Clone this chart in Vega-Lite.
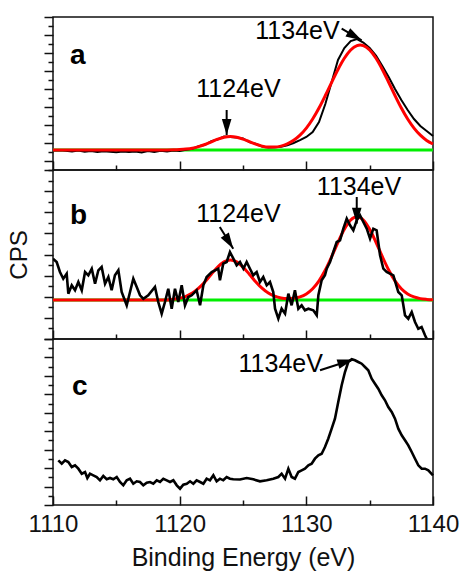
{
 "$schema": "https://vega.github.io/schema/vega-lite/v6.json",
 "padding": {"left": 6, "top": 15, "right": 0, "bottom": 0},
 "background": "white",
 "bounds": "flush",
 "spacing": 0,
 "config": {
  "view": {"stroke": "#111", "strokeWidth": 1.5},
  "font": "Liberation Sans",
  "axis": {"grid": false, "domain": false, "tickColor": "#111", "tickWidth": 1.5, "labelFont": "Liberation Sans", "titleFont": "Liberation Sans", "labelColor": "#111", "titleColor": "#111", "titleFontWeight": "normal"}
 },
 "datasets": {
  "aBase": [{"e":1110,"v":20},{"e":1140,"v":20}],
  "bBase": [{"e":1110,"v":39},{"e":1140,"v":39}],
  "aFit": [{"e":1110,"v":20},{"e":1117,"v":20},{"e":1118,"v":20.02},{"e":1119,"v":20.05},{"e":1119.5,"v":20.15},{"e":1120,"v":20.4},{"e":1120.5,"v":20.9},{"e":1121,"v":21.8},{"e":1121.5,"v":23.4},{"e":1122,"v":25.5},{"e":1122.5,"v":28.2},{"e":1123,"v":30.8},{"e":1123.5,"v":32.8},{"e":1124,"v":33.5},{"e":1124.5,"v":32.8},{"e":1125,"v":30.9},{"e":1125.5,"v":28.3},{"e":1126,"v":25.8},{"e":1126.5,"v":23.9},{"e":1127,"v":22.9},{"e":1127.5,"v":22.9},{"e":1128,"v":23.9},{"e":1128.5,"v":26.1},{"e":1129,"v":29.65},{"e":1129.5,"v":34.8},{"e":1130,"v":41.9},{"e":1130.5,"v":51.0},{"e":1131,"v":62.0},{"e":1131.5,"v":74.5},{"e":1132,"v":87.7},{"e":1132.5,"v":100.5},{"e":1133,"v":111.7},{"e":1133.5,"v":120.0},{"e":1134,"v":124.4},{"e":1134.25,"v":125},{"e":1134.5,"v":124.4},{"e":1135,"v":120.0},{"e":1135.5,"v":111.7},{"e":1136,"v":100.5},{"e":1136.5,"v":87.7},{"e":1137,"v":74.5},{"e":1137.5,"v":62.0},{"e":1138,"v":51.0},{"e":1138.5,"v":41.9},{"e":1139,"v":34.8},{"e":1139.5,"v":29.6},{"e":1140,"v":26.0}],
  "aExp": [{"e":1110,"v":19.5},{"e":1110.5,"v":19.8},{"e":1111,"v":19.2},{"e":1111.5,"v":18.6},{"e":1112,"v":19.4},{"e":1112.5,"v":18.3},{"e":1113,"v":18.9},{"e":1113.5,"v":18.0},{"e":1114,"v":18.7},{"e":1114.5,"v":18.2},{"e":1115,"v":17.8},{"e":1115.5,"v":18.6},{"e":1116,"v":17.9},{"e":1116.5,"v":18.4},{"e":1117,"v":17.6},{"e":1117.5,"v":18.9},{"e":1118,"v":18.1},{"e":1118.5,"v":19.2},{"e":1119,"v":18.4},{"e":1119.5,"v":19.6},{"e":1120,"v":19.0},{"e":1120.5,"v":20.3},{"e":1121,"v":21.2},{"e":1121.5,"v":23.8},{"e":1122,"v":25.2},{"e":1122.5,"v":28.9},{"e":1123,"v":30.5},{"e":1123.5,"v":33.6},{"e":1124,"v":33.0},{"e":1124.5,"v":32.4},{"e":1125,"v":31.6},{"e":1125.5,"v":27.9},{"e":1126,"v":26.2},{"e":1126.5,"v":23.5},{"e":1127,"v":22.4},{"e":1127.5,"v":22.8},{"e":1128,"v":23.2},{"e":1128.5,"v":24.8},{"e":1129,"v":27.0},{"e":1129.5,"v":29.8},{"e":1130,"v":33.0},{"e":1130.5,"v":38.0},{"e":1131,"v":48},{"e":1131.5,"v":66},{"e":1132,"v":88},{"e":1132.5,"v":110},{"e":1133,"v":122},{"e":1133.5,"v":129},{"e":1134,"v":131},{"e":1134.5,"v":127.5},{"e":1135,"v":122},{"e":1135.5,"v":114.5},{"e":1136,"v":104},{"e":1136.5,"v":93},{"e":1137,"v":81},{"e":1137.5,"v":70},{"e":1138,"v":60},{"e":1138.5,"v":51},{"e":1139,"v":44},{"e":1139.5,"v":39},{"e":1140,"v":34}],
  "bFit": [{"e":1110,"v":39},{"e":1119,"v":39},{"e":1119.5,"v":39.8},{"e":1120,"v":40.8},{"e":1120.5,"v":42.7},{"e":1121,"v":45.9},{"e":1121.5,"v":50.8},{"e":1122,"v":57.3},{"e":1122.5,"v":64.8},{"e":1123,"v":71.9},{"e":1123.5,"v":77.1},{"e":1124,"v":79.0},{"e":1124.5,"v":77.1},{"e":1125,"v":71.9},{"e":1125.5,"v":64.8},{"e":1126,"v":57.3},{"e":1126.5,"v":50.8},{"e":1127,"v":45.9},{"e":1127.5,"v":42.8},{"e":1128,"v":41.0},{"e":1128.5,"v":40.4},{"e":1129,"v":40.7},{"e":1129.5,"v":42.1},{"e":1130,"v":45.1},{"e":1130.5,"v":50.3},{"e":1131,"v":58.2},{"e":1131.5,"v":69},{"e":1132,"v":82.4},{"e":1132.5,"v":96.7},{"e":1133,"v":109.7},{"e":1133.5,"v":119},{"e":1134,"v":122.3},{"e":1134.5,"v":119},{"e":1135,"v":109.7},{"e":1135.5,"v":96.7},{"e":1136,"v":82.4},{"e":1136.5,"v":69},{"e":1137,"v":58.2},{"e":1137.5,"v":50.3},{"e":1138,"v":45.1},{"e":1138.5,"v":42.1},{"e":1139,"v":40.4},{"e":1139.5,"v":39.6},{"e":1140,"v":39.2}],
  "bExp": [{"e":1110.0,"v":80.3},{"e":1110.29,"v":77},{"e":1110.55,"v":67},{"e":1110.81,"v":60.3},{"e":1111.08,"v":65.3},{"e":1111.21,"v":45.3},{"e":1111.48,"v":53.7},{"e":1111.74,"v":48.7},{"e":1112.0,"v":57},{"e":1112.27,"v":48.7},{"e":1112.53,"v":67},{"e":1112.79,"v":63.7},{"e":1113.06,"v":70.3},{"e":1113.32,"v":55.3},{"e":1113.58,"v":68.7},{"e":1113.84,"v":72},{"e":1114.11,"v":55.3},{"e":1114.37,"v":62},{"e":1114.63,"v":48.7},{"e":1114.89,"v":63.7},{"e":1115.16,"v":68.7},{"e":1115.42,"v":47},{"e":1115.82,"v":33.7},{"e":1116.08,"v":47},{"e":1116.34,"v":60.3},{"e":1116.61,"v":52},{"e":1116.87,"v":43.7},{"e":1117.13,"v":40.3},{"e":1117.52,"v":43.7},{"e":1118.05,"v":52},{"e":1118.31,"v":37},{"e":1118.58,"v":25.3},{"e":1118.84,"v":37},{"e":1119.1,"v":50.3},{"e":1119.37,"v":30.3},{"e":1119.63,"v":50.3},{"e":1119.89,"v":37},{"e":1120.16,"v":53.7},{"e":1120.42,"v":33.7},{"e":1120.68,"v":42},{"e":1120.95,"v":43.7},{"e":1121.34,"v":48.7},{"e":1121.61,"v":33.7},{"e":1121.87,"v":53.7},{"e":1122.13,"v":62},{"e":1122.53,"v":67},{"e":1122.79,"v":68.7},{"e":1123.05,"v":70.3},{"e":1123.18,"v":58.7},{"e":1123.44,"v":75.3},{"e":1123.71,"v":77},{"e":1123.97,"v":87},{"e":1124.24,"v":80.3},{"e":1124.5,"v":73.7},{"e":1124.76,"v":77},{"e":1125.03,"v":70.3},{"e":1125.29,"v":77},{"e":1125.55,"v":70.3},{"e":1125.81,"v":63.7},{"e":1126.08,"v":67},{"e":1126.34,"v":57},{"e":1126.6,"v":62},{"e":1126.87,"v":53.7},{"e":1127.13,"v":57},{"e":1127.39,"v":47},{"e":1127.53,"v":30.3},{"e":1127.79,"v":20.3},{"e":1128.05,"v":30.3},{"e":1128.32,"v":25.3},{"e":1128.58,"v":45.3},{"e":1128.84,"v":33.7},{"e":1129.1,"v":48.7},{"e":1129.37,"v":30.3},{"e":1129.63,"v":33.7},{"e":1129.89,"v":28.7},{"e":1130.16,"v":30.3},{"e":1130.55,"v":28.7},{"e":1130.82,"v":23.7},{"e":1130.95,"v":43.7},{"e":1131.21,"v":58.7},{"e":1131.47,"v":63.7},{"e":1131.61,"v":70.3},{"e":1131.87,"v":77},{"e":1132.13,"v":87},{"e":1132.4,"v":97},{"e":1132.66,"v":98.7},{"e":1132.92,"v":110.3},{"e":1133.19,"v":120.3},{"e":1133.45,"v":113.7},{"e":1133.71,"v":108.7},{"e":1133.98,"v":118.7},{"e":1134.24,"v":123.7},{"e":1134.5,"v":117},{"e":1134.77,"v":110.3},{"e":1135.03,"v":100.3},{"e":1135.29,"v":110.3},{"e":1135.55,"v":108.7},{"e":1135.82,"v":83.7},{"e":1136.08,"v":70.3},{"e":1136.34,"v":67},{"e":1136.87,"v":63.7},{"e":1137.26,"v":47},{"e":1137.53,"v":43.7},{"e":1137.79,"v":23.7},{"e":1138.05,"v":20.3},{"e":1138.32,"v":27},{"e":1138.58,"v":17},{"e":1138.84,"v":10.3},{"e":1139.1,"v":12},{"e":1139.37,"v":3.7},{"e":1139.63,"v":-3}],
  "cExp": [{"e":1110.42,"v":44.7},{"e":1110.69,"v":41.3},{"e":1110.95,"v":44.7},{"e":1111.21,"v":43},{"e":1111.48,"v":38},{"e":1111.74,"v":39.7},{"e":1112.0,"v":36.3},{"e":1112.27,"v":31.3},{"e":1112.53,"v":33},{"e":1112.71,"v":27},{"e":1112.92,"v":31.3},{"e":1113.18,"v":29.7},{"e":1113.45,"v":28},{"e":1113.71,"v":24.7},{"e":1113.97,"v":29},{"e":1114.24,"v":25.7},{"e":1114.5,"v":27},{"e":1114.76,"v":25.7},{"e":1115.03,"v":28},{"e":1115.29,"v":23},{"e":1115.55,"v":19.7},{"e":1115.82,"v":24.7},{"e":1116.08,"v":26.3},{"e":1116.34,"v":21.3},{"e":1116.61,"v":23.7},{"e":1116.87,"v":23},{"e":1117.13,"v":19.7},{"e":1117.4,"v":22.3},{"e":1117.66,"v":23},{"e":1117.92,"v":21.3},{"e":1118.19,"v":24.7},{"e":1118.45,"v":23},{"e":1118.71,"v":26.3},{"e":1118.98,"v":24.7},{"e":1119.24,"v":23},{"e":1119.5,"v":24.7},{"e":1119.77,"v":19.7},{"e":1120.03,"v":16.3},{"e":1120.29,"v":20.3},{"e":1120.56,"v":21.3},{"e":1120.82,"v":23.7},{"e":1121.08,"v":21.3},{"e":1121.34,"v":24.7},{"e":1121.61,"v":23},{"e":1121.87,"v":21.3},{"e":1122.13,"v":26.3},{"e":1122.39,"v":24.7},{"e":1122.66,"v":29.7},{"e":1122.92,"v":23.7},{"e":1123.18,"v":26.3},{"e":1123.44,"v":24.7},{"e":1123.71,"v":28},{"e":1123.97,"v":26.3},{"e":1124.23,"v":25.7},{"e":1124.76,"v":25.5},{"e":1125.29,"v":27},{"e":1125.81,"v":25.7},{"e":1126.34,"v":23.7},{"e":1126.87,"v":24.7},{"e":1127.39,"v":26.3},{"e":1127.79,"v":28},{"e":1128.05,"v":31.3},{"e":1128.32,"v":26.3},{"e":1128.58,"v":36.3},{"e":1128.84,"v":28},{"e":1129.1,"v":26.3},{"e":1129.37,"v":33},{"e":1129.63,"v":34.7},{"e":1129.89,"v":36.3},{"e":1130.16,"v":39.7},{"e":1130.42,"v":41.3},{"e":1130.68,"v":46.3},{"e":1130.95,"v":49.7},{"e":1131.21,"v":51.3},{"e":1131.47,"v":58},{"e":1131.73,"v":66.3},{"e":1132.0,"v":76.3},{"e":1132.26,"v":86.3},{"e":1132.52,"v":103},{"e":1132.79,"v":119.7},{"e":1133.05,"v":133},{"e":1133.31,"v":143},{"e":1133.58,"v":145.7},{"e":1133.84,"v":144.7},{"e":1134.1,"v":143},{"e":1134.37,"v":141.3},{"e":1134.63,"v":138},{"e":1134.89,"v":134.7},{"e":1135.16,"v":126.3},{"e":1135.42,"v":121.3},{"e":1135.68,"v":116.3},{"e":1135.95,"v":109.7},{"e":1136.21,"v":104.7},{"e":1136.47,"v":98},{"e":1136.74,"v":93},{"e":1137.0,"v":86.3},{"e":1137.26,"v":76.3},{"e":1137.53,"v":69.7},{"e":1137.79,"v":64.7},{"e":1138.05,"v":59.7},{"e":1138.32,"v":53},{"e":1138.58,"v":46.3},{"e":1138.84,"v":39.7},{"e":1139.11,"v":36.3},{"e":1139.37,"v":36.3},{"e":1139.63,"v":34.7},{"e":1140.0,"v":29.7}],
  "aText": [{"e":1124.64,"v":73,"t":"1124eV"},{"e":1129.3,"v":131.3,"t":"1134eV"}],
  "aLetter": [{"e":1111.35,"v":106,"t":"a"}],
  "aArrow": [{"e":1123.71,"v":35,"e0":1123.71,"v0":60,"dir":180},{"e":1134.37,"v":129.7,"e0":1132.79,"v0":141.3,"dir":120}],
  "bText": [{"e":1124.64,"v":117,"t":"1124eV"},{"e":1134.16,"v":143.7,"t":"1134eV"}],
  "bLetter": [{"e":1111.35,"v":115,"t":"b"}],
  "bArrow": [{"e":1124.23,"v":90.3,"e0":1123.17,"v0":112,"dir":148},{"e":1133.98,"v":115.3,"e0":1133.98,"v0":142,"dir":180}],
  "cText": [{"e":1127.98,"v":133,"t":"1134eV"}],
  "cLetter": [{"e":1111.5,"v":110,"t":"c"}],
  "cArrow": [{"e":1133.71,"v":145.5,"e0":1131.08,"v0":134.7,"dir":73}]
 },
 "vconcat": [
  {
   "width": 380, "height": 153,
   "encoding": {
    "x": {"field":"e","type":"quantitative","scale":{"domain":[1110,1140],"nice":false,"zero":false},
          "axis":{"values":[1110,1115,1120,1125,1130,1135,1140],"labels":false,"title":null,"tickSize":{"condition":{"test":"datum.value % 10 == 0","value":-9},"value":-5}}},
    "y": {"field":"v","type":"quantitative","scale":{"domain":[0,153],"nice":false,"zero":false},
          "axis":{"values":[0,9,18,27,36,45,54,63,72,81,90,99,108,117,126,135,144,153],"labels":false,"title":null,"tickSize":{"condition":{"test":"datum.value % 18 == 9","value":9},"value":5}}}
   },
   "layer": [
    {"data":{"name":"aBase"},"mark":{"type":"line","color":"#00ee00","strokeWidth":3}},
    {"data":{"name":"aExp"},"mark":{"type":"line","color":"#000","strokeWidth":2}},
    {"data":{"name":"aFit"},"mark":{"type":"line","color":"#ff0000","strokeWidth":3,"interpolate":"monotone"}},
    {"data":{"name":"aArrow"},"mark":{"type":"rule","color":"#000","strokeWidth":2},"encoding":{"x2":{"field":"e0"},"y2":{"field":"v0"}}},
    {"data":{"name":"aArrow"},"mark":{"type":"point","shape":"M0,0L0.3,1L-0.3,1Z","filled":true,"color":"#000","size":1024,"opacity":1,"strokeWidth":0},"encoding":{"angle":{"field":"dir","type":"quantitative","scale":null}}},
    {"data":{"name":"aText"},"mark":{"type":"text","fontSize":25,"align":"center","baseline":"alphabetic","color":"#000"},"encoding":{"text":{"field":"t"}}},
    {"data":{"name":"aLetter"},"mark":{"type":"text","fontSize":28,"fontWeight":"bold","align":"left","baseline":"alphabetic","color":"#000"},"encoding":{"text":{"field":"t"}}}
   ]
  },
  {
   "width": 380, "height": 169,
   "encoding": {
    "x": {"field":"e","type":"quantitative","scale":{"domain":[1110,1140],"nice":false,"zero":false},
          "axis":{"values":[1110,1115,1120,1125,1130,1135,1140],"labels":false,"title":null,"tickSize":{"condition":{"test":"datum.value % 10 == 0","value":-9},"value":-5}}},
    "y": {"field":"v","type":"quantitative","scale":{"domain":[0,169],"nice":false,"zero":false},
          "axis":{"values":[0,10.5625,21.125,31.6875,42.25,52.8125,63.375,73.9375,84.5,95.0625,105.625,116.1875,126.75,137.3125,147.875,158.4375,169],"labels":false,"title":"CPS","titleFontSize":24,"titlePadding":12,"tickSize":{"condition":{"test":"round(datum.value / 10.5625) % 2 == 0","value":9},"value":5}}}
   },
   "layer": [
    {"data":{"name":"bBase"},"mark":{"type":"line","color":"#00ee00","strokeWidth":3}},
    {"data":{"name":"bFit"},"mark":{"type":"line","color":"#ff0000","strokeWidth":3,"interpolate":"monotone"}},
    {"data":{"name":"bExp"},"mark":{"type":"line","color":"#000","strokeWidth":2.6,"clip":true}},
    {"data":{"name":"bArrow"},"mark":{"type":"rule","color":"#000","strokeWidth":2},"encoding":{"x2":{"field":"e0"},"y2":{"field":"v0"}}},
    {"data":{"name":"bArrow"},"mark":{"type":"point","shape":"M0,0L0.3,1L-0.3,1Z","filled":true,"color":"#000","size":1024,"opacity":1,"strokeWidth":0},"encoding":{"angle":{"field":"dir","type":"quantitative","scale":null}}},
    {"data":{"name":"bText"},"mark":{"type":"text","fontSize":25,"align":"center","baseline":"alphabetic","color":"#000"},"encoding":{"text":{"field":"t"}}},
    {"data":{"name":"bLetter"},"mark":{"type":"text","fontSize":28,"fontWeight":"bold","align":"left","baseline":"alphabetic","color":"#000"},"encoding":{"text":{"field":"t"}}}
   ]
  },
  {
   "width": 380, "height": 166,
   "encoding": {
    "x": {"field":"e","type":"quantitative","scale":{"domain":[1110,1140],"nice":false,"zero":false},
          "axis":{"values":[1110,1115,1120,1125,1130,1135,1140],"format":"d","labelExpr":"datum.value % 10 == 0 ? datum.label : ''","labelFlush":false,"labelOverlap":false,"labelFontSize":24,"labelPadding":16,"title":"Binding Energy (eV)","titleFontSize":25,"titlePadding":5,"tickSize":{"condition":{"test":"datum.value % 10 == 0","value":-9},"value":-5}}},
    "y": {"field":"v","type":"quantitative","scale":{"domain":[0,166],"nice":false,"zero":false},
          "axis":{"values":[0,9.2222,18.4444,27.6667,36.8889,46.1111,55.3333,64.5556,73.7778,83,92.2222,101.4444,110.6667,119.8889,129.1111,138.3333,147.5556,156.7778,166],"labels":false,"title":null,"tickSize":{"condition":{"test":"round(datum.value / 9.2222) % 2 == 0","value":9},"value":5}}}
   },
   "layer": [
    {"data":{"name":"cExp"},"mark":{"type":"line","color":"#000","strokeWidth":2.6}},
    {"data":{"name":"cArrow"},"mark":{"type":"rule","color":"#000","strokeWidth":2},"encoding":{"x2":{"field":"e0"},"y2":{"field":"v0"}}},
    {"data":{"name":"cArrow"},"mark":{"type":"point","shape":"M0,0L0.3,1L-0.3,1Z","filled":true,"color":"#000","size":1024,"opacity":1,"strokeWidth":0},"encoding":{"angle":{"field":"dir","type":"quantitative","scale":null}}},
    {"data":{"name":"cText"},"mark":{"type":"text","fontSize":25,"align":"center","baseline":"alphabetic","color":"#000"},"encoding":{"text":{"field":"t"}}},
    {"data":{"name":"cLetter"},"mark":{"type":"text","fontSize":28,"fontWeight":"bold","align":"left","baseline":"alphabetic","color":"#000"},"encoding":{"text":{"field":"t"}}}
   ]
  }
 ]
}
